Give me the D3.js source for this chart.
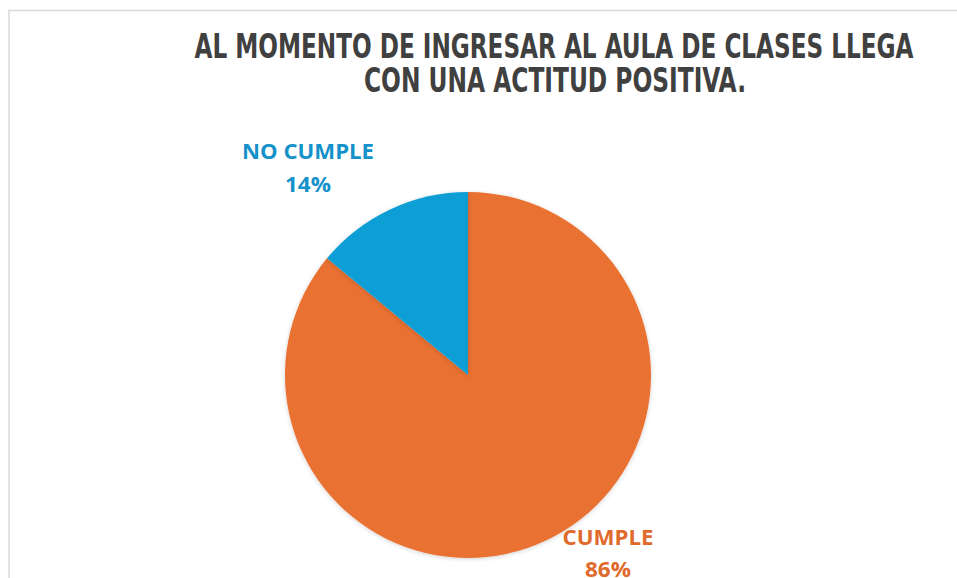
<!DOCTYPE html>
<html><head><meta charset="utf-8">
<script src="https://cdn.jsdelivr.net/npm/d3@7"></script>
<style>body{margin:0;background:#fff}svg{display:block}</style>
</head><body>
<svg id="c" width="957" height="578"></svg>
<script>
const categories = ["CUMPLE", "NO CUMPLE"];
const values = [86, 14];
const labels = ["86%", "14%"];
const colors = ["#E97132", "#0F9ED5"];
const titleLines = ["AL MOMENTO DE INGRESAR AL AULA DE CLASES LLEGA", "CON UNA ACTITUD POSITIVA."];

const svg = d3.select("#c");
// chart border
svg.append("path").attr("d", "M9,578 V10.5 H957").attr("fill", "none").attr("stroke", "#d9d9d9").attr("stroke-width", 1.5);

const tf = "'Liberation Sans Narrow','DejaVu Sans Condensed','Roboto Condensed',sans-serif";
const tl = [[554, 58, 719], [555, 92, 382]];
titleLines.forEach((t, i) => {
  svg.append("text").attr("x", tl[i][0]).attr("y", tl[i][1]).attr("text-anchor", "middle")
    .attr("font-family", tf).attr("font-weight", "bold").attr("font-size", 33)
    .attr("fill", "#404040").attr("textLength", tl[i][2]).attr("lengthAdjust", "spacingAndGlyphs").text(t);
});

const cx = 468, cy = 375, r = 183;
const pie = d3.pie().sort(null).value(d => d)(values);
const arc = d3.arc().innerRadius(0).outerRadius(r);
const defs = svg.append("defs");
const f = defs.append("filter").attr("id", "sh").attr("x", "-10%").attr("y", "-10%").attr("width", "120%").attr("height", "120%");
f.append("feDropShadow").attr("dx", 0).attr("dy", 1).attr("stdDeviation", 2).attr("flood-color", "#000").attr("flood-opacity", 0.18);
const g = svg.append("g").attr("transform", `translate(${cx},${cy})`);
g.selectAll("path").data(pie).join("path").attr("d", arc).attr("fill", (d, i) => colors[i]).attr("filter", "url(#sh)");

const lf = "'Open Sans','Noto Sans',sans-serif";
const lp = [[608, 545, 577, 91, 46], [308, 159, 192, 132, 46]];
const lc = ["#E06A2C", "#1592C9"];
categories.forEach((c, i) => {
  svg.append("text").attr("x", lp[i][0]).attr("y", lp[i][1]).attr("text-anchor", "middle")
    .attr("font-family", lf).attr("font-weight", "bold").attr("font-size", 22).attr("fill", lc[i])
    .attr("textLength", lp[i][3]).attr("lengthAdjust", "spacingAndGlyphs").text(c);
  svg.append("text").attr("x", lp[i][0]).attr("y", lp[i][2]).attr("text-anchor", "middle")
    .attr("font-family", lf).attr("font-weight", "bold").attr("font-size", 22).attr("fill", lc[i])
    .attr("textLength", lp[i][4]).attr("lengthAdjust", "spacingAndGlyphs").text(labels[i]);
});
</script>
</body></html>
